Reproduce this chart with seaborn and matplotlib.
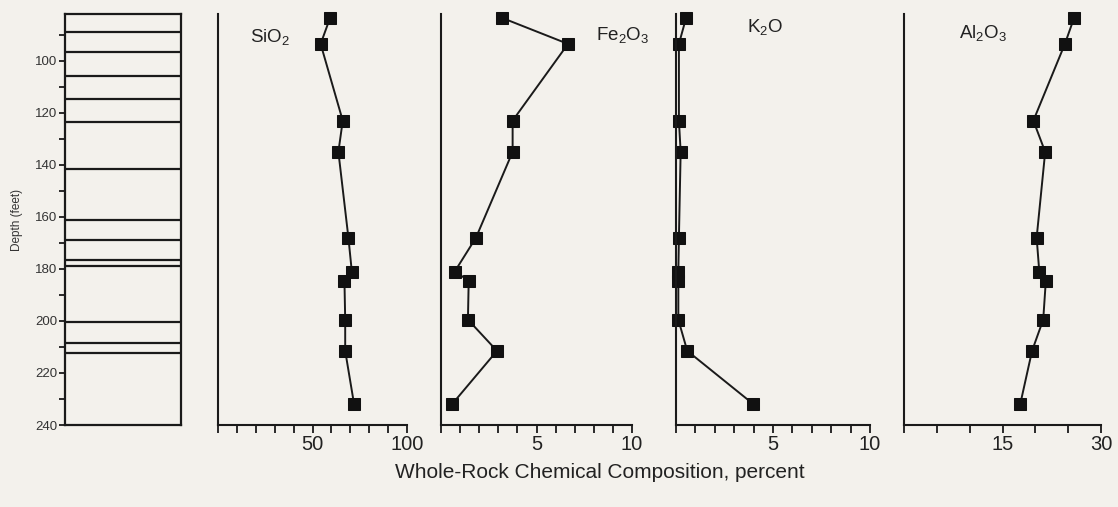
import matplotlib
matplotlib.use("Agg")
import matplotlib.pyplot as plt
import seaborn as sns
import numpy as np
import pandas as pd

# ---------------- data ----------------
depth = [83.5, 93.5, 123, 135, 168, 181, 184.5, 199.5, 211.5, 232]
sio2 = [59.3, 54.3, 66.0, 63.7, 69.0, 70.8, 66.9, 67.3, 67.3, 72.0]
fe2o3 = [3.2, 6.65, 3.75, 3.75, 1.83, 0.72, 1.45, 1.41, 2.93, 0.58]
k2o = [0.52, 0.15, 0.15, 0.24, 0.15, 0.12, 0.12, 0.12, 0.58, 3.99]
al2o3 = [25.9, 24.5, 19.7, 21.5, 20.2, 20.6, 21.6, 21.2, 19.5, 17.7]

layer_bounds = [89, 96.5, 106, 114.5, 123.5, 141.5, 161, 169, 176.5, 179, 200.5, 208.5, 212.5]

panel_titles = [r"SiO$_2$", r"Fe$_2$O$_3$", r"K$_2$O", r"Al$_2$O$_3$"]
x_ranges = [(0, 100), (0, 10), (0, 10), (0, 30)]
x_steps = [10, 1, 1, 5]
x_labeled = [[50, 100], [5, 10], [5, 10], [15, 30]]
depth_major = list(range(100, 241, 20))
depth_minor = list(range(90, 240, 20))
x_label = "Whole-Rock Chemical Composition, percent"
y_label = "Depth (feet)"

# ---------------- style ----------------
sns.set_style("ticks")
plt.rcParams["font.family"] = ["Liberation Sans", "DejaVu Sans"]
plt.rcParams["mathtext.fontset"] = "custom"
plt.rcParams["mathtext.rm"] = "Liberation Sans"
plt.rcParams["mathtext.it"] = "Liberation Sans"
plt.rcParams["mathtext.bf"] = "Liberation Sans"

bg = "#f3f1ec"
ink = "#1a1a1a"

W, H = 1118, 507
fig = plt.figure(figsize=(W / 100, H / 100), dpi=100, facecolor=bg)

bottom = (H - 425) / H
height = (425 - 14) / H
ylim = (240, 82)

# lithologic column
axL = fig.add_axes([65 / W, bottom, 116 / W, height], facecolor=bg)
axL.set_ylim(*ylim)
axL.set_xlim(0, 1)
axL.hlines(layer_bounds, 0, 1, color=ink, lw=1.6)
axL.set_xticks([])
axL.set_yticks(depth_major)
axL.set_yticks(depth_minor, minor=True)
axL.set_yticklabels([str(d) for d in depth_major], fontsize=9.5, color="#333333")
axL.tick_params(axis="y", which="both", length=4.5, width=1.3, pad=1, color=ink)
for s in axL.spines.values():
    s.set_linewidth(1.6)
    s.set_color(ink)
axL.set_ylabel(y_label, fontsize=8.5, color="#333333", labelpad=9)

# chemistry panels
lefts = [218, 441, 676, 904]
widths = [189, 191, 194, 197]
series = [sio2, fe2o3, k2o, al2o3]
title_pos = [(0.275, 0.944), (0.953, 0.949), (0.459, 0.968), (0.40, 0.954)]

for i in range(4):
    ax = fig.add_axes([lefts[i] / W, bottom, widths[i] / W, height], facecolor=bg)
    df = pd.DataFrame({"value": series[i], "depth": depth})
    sns.lineplot(data=df, x="value", y="depth", ax=ax, sort=False, estimator=None,
                 color=ink, lw=1.4, marker="s", markersize=9,
                 markerfacecolor="#111111", markeredgecolor="#111111", clip_on=False)
    ax.set_xlim(*x_ranges[i])
    ax.set_ylim(*ylim)
    ticks = np.arange(x_ranges[i][0], x_ranges[i][1] + x_steps[i] / 2, x_steps[i])
    ax.set_xticks(ticks)
    ax.set_xticklabels([str(int(t)) if int(t) in x_labeled[i] else "" for t in ticks],
                       fontsize=14.5, color="#222222")
    ax.tick_params(axis="x", length=6, width=1.3, pad=1, color=ink)
    ax.set_yticks([])
    ax.set_xlabel("")
    ax.set_ylabel("")
    sns.despine(ax=ax)
    for s in ["left", "bottom"]:
        ax.spines[s].set_linewidth(1.5)
        ax.spines[s].set_color(ink)
    ax.text(title_pos[i][0], title_pos[i][1], panel_titles[i], transform=ax.transAxes,
            ha="center", va="center", fontsize=13.5, color="#222222")

fig.text(600 / W, (H - 473) / H, x_label, ha="center", va="center",
         fontsize=15, color="#222222")

fig.savefig("out.png", dpi=100, facecolor=bg)
